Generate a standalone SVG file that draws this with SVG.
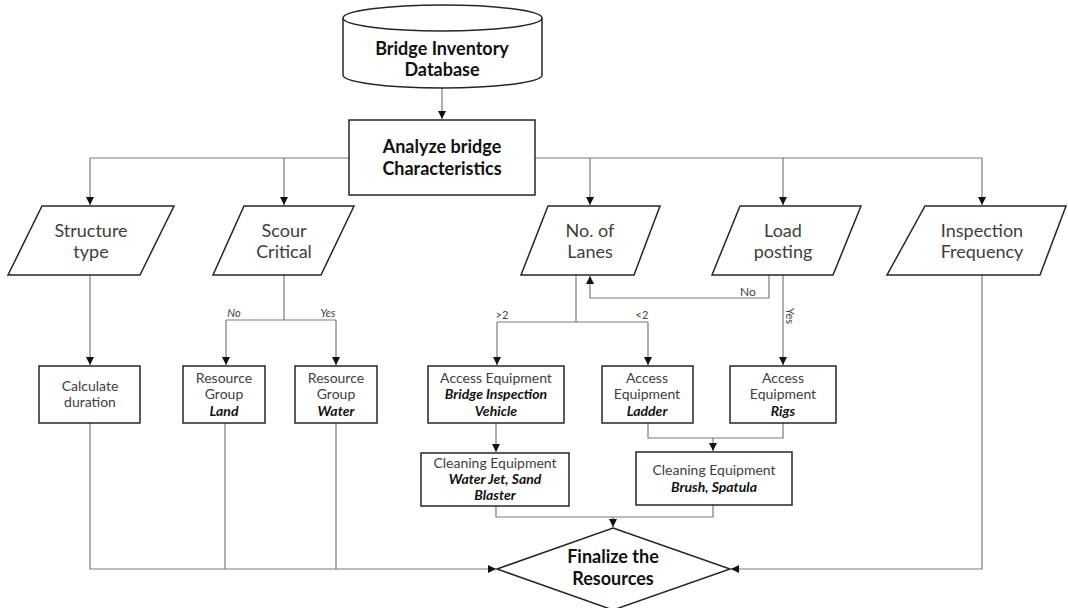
<svg xmlns="http://www.w3.org/2000/svg" width="1068" height="608" viewBox="0 0 1068 608">
<style>
.shape{fill:#fff;stroke:#262626;stroke-width:1.5}
.conn{fill:none;stroke:#7a7a7a;stroke-width:1.2}
.t{font-family:Lato,"Open Sans",sans-serif;fill:#404040;text-anchor:middle}
.big{font-size:18px}
.bold{font-weight:bold;fill:#111;font-size:18px}
.sm{font-size:14px}
.bi{font-weight:bold;font-style:italic;fill:#111}
.lbl{font-size:11px}
</style>
<defs>
<marker id="ar" markerUnits="userSpaceOnUse" markerWidth="9" markerHeight="9" refX="8" refY="4" orient="auto">
<path d="M0,0 L8,4 L0,8 z" fill="#111"/>
</marker>
</defs>
<rect width="1068" height="608" fill="#fff"/>

<g id="connectors">
<path class="conn" d="M442,88 V119" marker-end="url(#ar)"/>
<path class="conn" d="M349,158 H90 V205" marker-end="url(#ar)"/>
<path class="conn" d="M284,158 V205" marker-end="url(#ar)"/>
<path class="conn" d="M535,158 H982 V205" marker-end="url(#ar)"/>
<path class="conn" d="M590,158 V205" marker-end="url(#ar)"/>
<path class="conn" d="M783,158 V205" marker-end="url(#ar)"/>
<path class="conn" d="M90,275 V365" marker-end="url(#ar)"/>
<path class="conn" d="M284,275 V320"/>
<path class="conn" d="M226,320 H336"/>
<path class="conn" d="M226,320 V365" marker-end="url(#ar)"/>
<path class="conn" d="M336,320 V365" marker-end="url(#ar)"/>
<path class="conn" d="M576,275 V322"/>
<path class="conn" d="M497,322 H648"/>
<path class="conn" d="M497,322 V365" marker-end="url(#ar)"/>
<path class="conn" d="M648,322 V365" marker-end="url(#ar)"/>
<path class="conn" d="M769,275 V298 H590 V276" marker-end="url(#ar)"/>
<path class="conn" d="M783,275 V365" marker-end="url(#ar)"/>
<path class="conn" d="M496,423 V452" marker-end="url(#ar)"/>
<path class="conn" d="M648,423 V438 H783 V423"/>
<path class="conn" d="M713,438 V451" marker-end="url(#ar)"/>
<path class="conn" d="M496,506 V517 H713 V505"/>
<path class="conn" d="M613,517 V527" marker-end="url(#ar)"/>
<path class="conn" d="M90,423 V569 H496" marker-end="url(#ar)"/>
<path class="conn" d="M225,423 V569"/>
<path class="conn" d="M336,423 V569"/>
<path class="conn" d="M982,275 V569 H731" marker-end="url(#ar)"/>
<text class="t lbl" x="234" y="317" font-style="italic">No</text>
<text class="t lbl" x="328" y="317" font-style="italic">Yes</text>
<text class="t lbl" x="502" y="319">&gt;2</text>
<text class="t lbl" x="642" y="319">&lt;2</text>
<text class="t" x="748" y="296" font-size="12">No</text>
<text class="t lbl" x="0" y="0" transform="translate(786,316) rotate(90)">Yes</text>
</g>

<g id="db">
<path class="shape" d="M343,18 A99.5,13 0 0 1 542,18 V75 A99.5,13 0 0 1 343,75 Z"/>
<path class="shape" fill="none" d="M343,18 A99.5,13 0 0 0 542,18"/>
<text class="t bold" x="442" y="55">Bridge Inventory</text>
<text class="t bold" x="442" y="76">Database</text>
</g>

<g id="analyze">
<rect class="shape" x="349" y="120" width="186" height="75"/>
<text class="t bold" x="442" y="153">Analyze bridge</text>
<text class="t bold" x="442" y="175">Characteristics</text>
</g>

<g id="structure">
<polygon class="shape" points="42,206 174,206 140,275 8,275"/>
<text class="t big" x="91" y="237">Structure</text>
<text class="t big" x="91" y="258">type</text>
</g>
<g id="scour">
<polygon class="shape" points="244,206 354,206 321,275 213,275"/>
<text class="t big" x="284" y="237">Scour</text>
<text class="t big" x="284" y="258">Critical</text>
</g>
<g id="lanes">
<polygon class="shape" points="548,206 660,206 634,275 521,275"/>
<text class="t big" x="590" y="237">No. of</text>
<text class="t big" x="590" y="258">Lanes</text>
</g>
<g id="load">
<polygon class="shape" points="740,206 861,206 833,275 712,275"/>
<text class="t big" x="783" y="237">Load</text>
<text class="t big" x="783" y="258">posting</text>
</g>
<g id="frequency">
<polygon class="shape" points="925,206 1066,206 1040,275 887,275"/>
<text class="t big" x="982" y="237">Inspection</text>
<text class="t big" x="982" y="258">Frequency</text>
</g>

<g id="calc">
<rect class="shape" x="39" y="366" width="101" height="57"/>
<text class="t sm" x="90" y="391">Calculate</text>
<text class="t sm" x="90" y="407">duration</text>
</g>
<g id="land">
<rect class="shape" x="183" y="366" width="82" height="57"/>
<text class="t sm" x="224" y="383">Resource</text>
<text class="t sm" x="224" y="399">Group</text>
<text class="t sm bi" x="224" y="416">Land</text>
</g>
<g id="water">
<rect class="shape" x="295" y="366" width="82" height="57"/>
<text class="t sm" x="336" y="383">Resource</text>
<text class="t sm" x="336" y="399">Group</text>
<text class="t sm bi" x="336" y="416">Water</text>
</g>
<g id="biv">
<rect class="shape" x="428" y="366" width="136" height="57"/>
<text class="t sm" x="496" y="383">Access Equipment</text>
<text class="t sm bi" x="496" y="399">Bridge Inspection</text>
<text class="t sm bi" x="496" y="416">Vehicle</text>
</g>
<g id="ladder">
<rect class="shape" x="602" y="366" width="91" height="57"/>
<text class="t sm" x="647" y="383">Access</text>
<text class="t sm" x="647" y="399">Equipment</text>
<text class="t sm bi" x="647" y="416">Ladder</text>
</g>
<g id="rigs">
<rect class="shape" x="730" y="366" width="106" height="57"/>
<text class="t sm" x="783" y="383">Access</text>
<text class="t sm" x="783" y="399">Equipment</text>
<text class="t sm bi" x="783" y="416">Rigs</text>
</g>
<g id="waterjet">
<rect class="shape" x="421" y="453" width="148" height="53"/>
<text class="t sm" x="495" y="468">Cleaning Equipment</text>
<text class="t sm bi" x="495" y="484">Water Jet, Sand</text>
<text class="t sm bi" x="495" y="500">Blaster</text>
</g>
<g id="brush">
<rect class="shape" x="636" y="452" width="156" height="53"/>
<text class="t sm" x="714" y="475">Cleaning Equipment</text>
<text class="t sm bi" x="714" y="492">Brush, Spatula</text>
</g>
<g id="finalize">
<polygon class="shape" points="613,528 730,569 613,610 497,569"/>
<text class="t bold" x="613" y="563">Finalize the</text>
<text class="t bold" x="613" y="585">Resources</text>
</g>
</svg>
